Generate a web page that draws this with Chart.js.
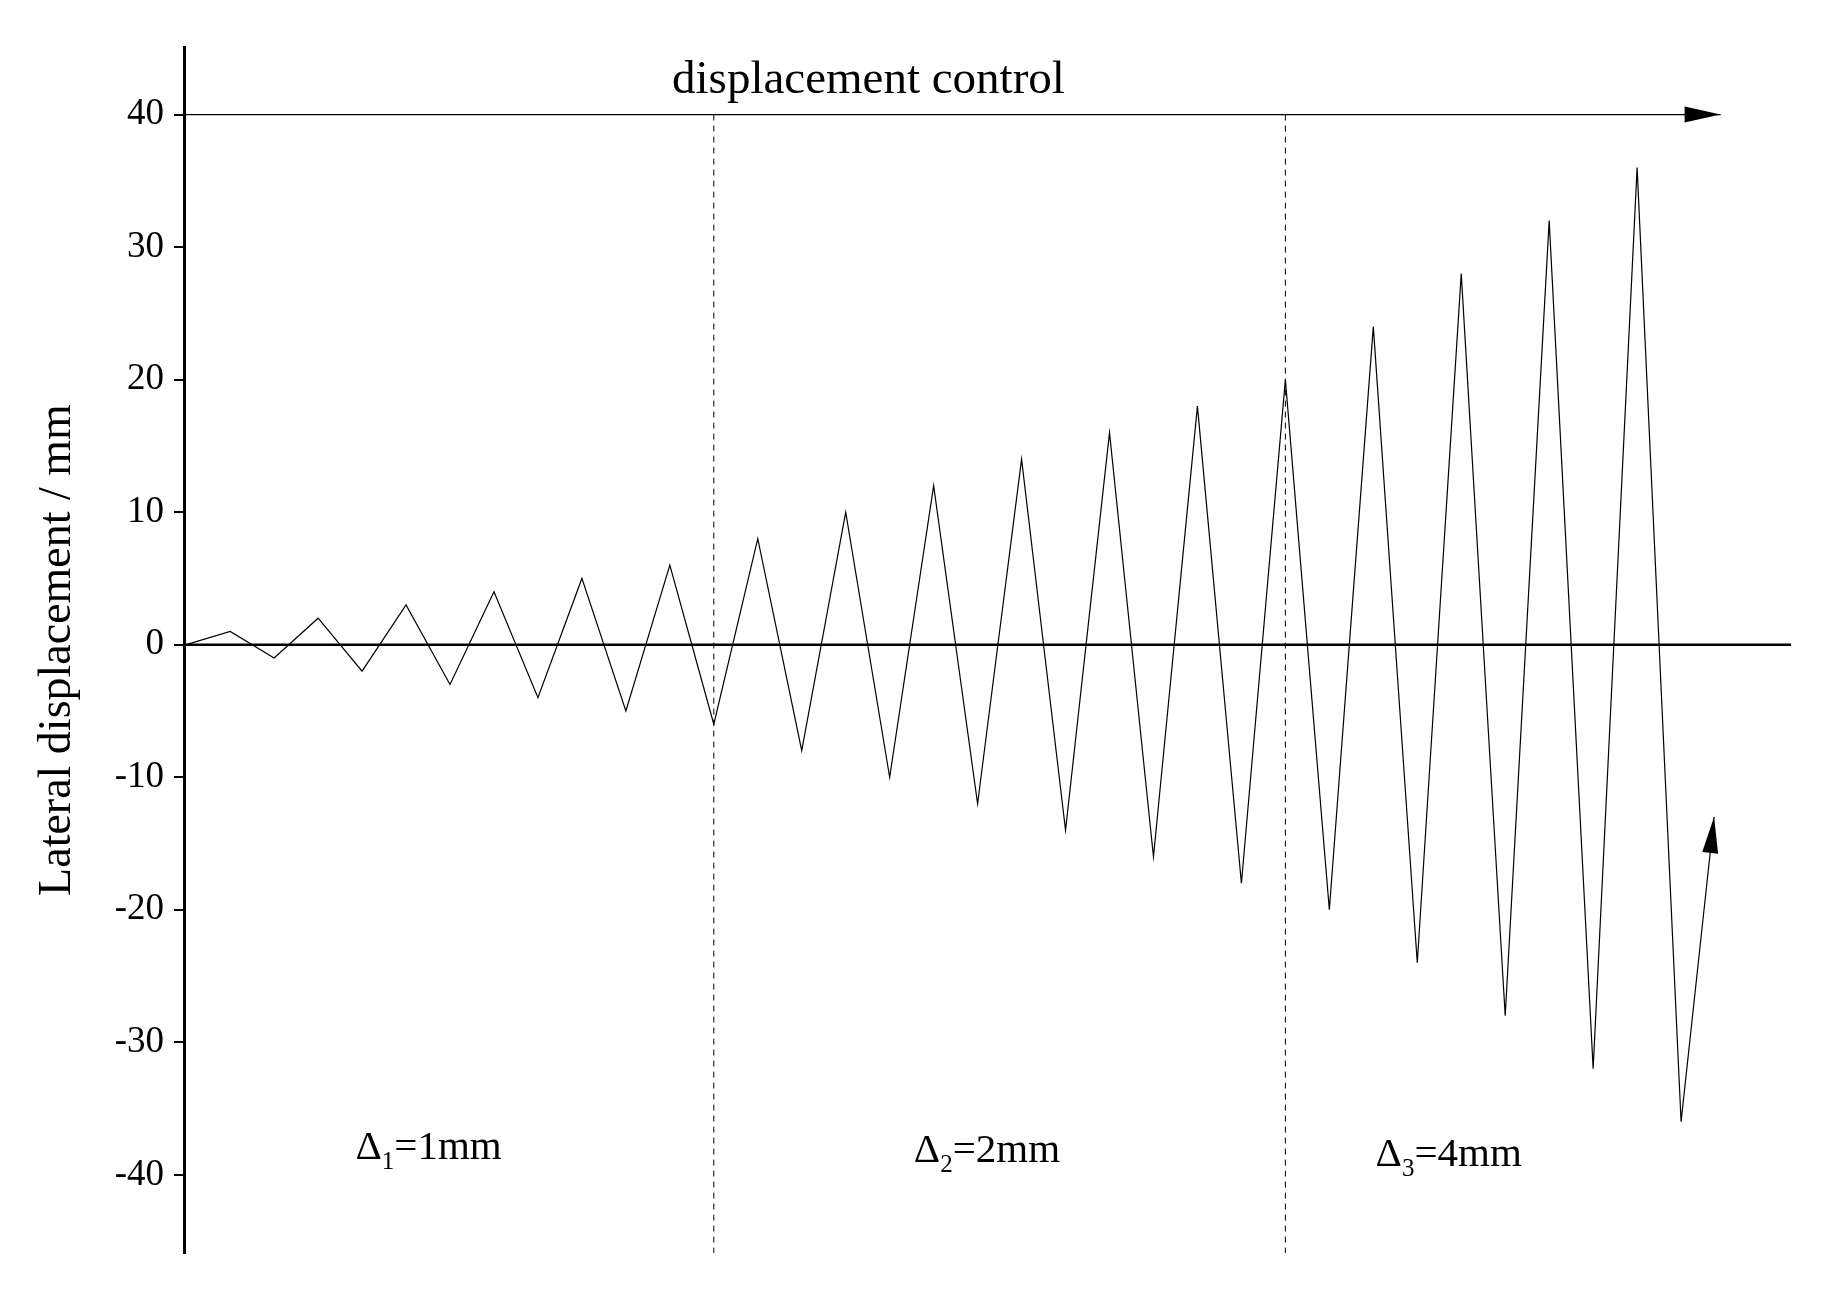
<!DOCTYPE html>
<html><head><meta charset="utf-8">
<script src="https://cdn.jsdelivr.net/npm/chart.js@4"></script>
<style>html,body{margin:0;background:#fff}</style></head>
<body><canvas id="c" width="1835" height="1300"></canvas>
<script>
const halfCycles = [0,1,2,3,4,5,6,7,8,9,10,11,12,13,14,15,16,17,18,19,20,21,22,23,24,25,26,27,28,29,30,31,32,33,34,34.75];
const displacement = [0,1,-1,2,-2,3,-3,4,-4,5,-5,6,-6,8,-8,10,-10,12,-12,14,-14,16,-16,18,-18,20,-20,24,-24,28,-28,32,-32,36,-36,-13];
const yTicks = [-40,-30,-20,-10,0,10,20,30,40];
const stageBounds = [12,25];
const stageLabels = [{x:3.85,n:'1',t:'=1mm'},{x:16.55,n:'2',t:'=2mm'},{x:27.05,n:'3',t:'=4mm'}];
const stageLabelY = [-38.8,-39.0,-39.3];
const FONT = '"Liberation Serif", "DejaVu Serif", serif';

const deco = {
  id:'deco',
  afterDatasetsDraw(ch){
    const c=ch.ctx, x=ch.scales.x, y=ch.scales.y, a=ch.chartArea;
    c.save(); c.strokeStyle='#000'; c.fillStyle='#000';
    c.lineWidth=2.5; c.beginPath(); c.moveTo(a.left,y.getPixelForValue(0)); c.lineTo(a.right,y.getPixelForValue(0)); c.stroke();
    c.lineWidth=1; c.setLineDash([6,5]);
    stageBounds.forEach(v=>{c.beginPath();c.moveTo(x.getPixelForValue(v),y.getPixelForValue(40));c.lineTo(x.getPixelForValue(v),a.bottom);c.stroke();});
    c.setLineDash([]);
    const yy=y.getPixelForValue(40), xe=x.getPixelForValue(34.9);
    c.lineWidth=1.3; c.beginPath(); c.moveTo(a.left,yy); c.lineTo(xe,yy); c.stroke();
    c.beginPath(); c.moveTo(xe,yy); c.lineTo(xe-36,yy-8); c.lineTo(xe-36,yy+8); c.closePath(); c.fill();
    const n=halfCycles.length;
    const x1=x.getPixelForValue(halfCycles[n-2]),y1=y.getPixelForValue(displacement[n-2]);
    const x2=x.getPixelForValue(halfCycles[n-1]),y2=y.getPixelForValue(displacement[n-1]);
    const ang=Math.atan2(y2-y1,x2-x1);
    c.save(); c.translate(x2,y2); c.rotate(ang);
    c.beginPath(); c.moveTo(0,0); c.lineTo(-36,-8); c.lineTo(-36,8); c.closePath(); c.fill(); c.restore();
    c.font='47px '+FONT; c.textAlign='left'; c.textBaseline='alphabetic';
    c.fillText('displacement control', x.getPixelForValue(11.05), y.getPixelForValue(41.6));
    stageLabels.forEach((s,i)=>{
      let px=x.getPixelForValue(s.x), py=y.getPixelForValue(stageLabelY[i]);
      c.textAlign='left'; c.font='41px '+FONT;
      c.fillText('\u0394',px,py); let w=c.measureText('\u0394').width;
      c.font='25px '+FONT; c.fillText(s.n,px+w,py+10); let w2=c.measureText(s.n).width;
      c.font='41px '+FONT; c.fillText(s.t,px+w+w2,py);
    });
    c.restore();
  }
};

new Chart(document.getElementById('c'),{
  type:'scatter',
  data:{datasets:[{data:halfCycles.map((v,i)=>({x:v,y:displacement[i]})),showLine:true,borderColor:'#000',borderWidth:1.2,pointRadius:0,tension:0}]},
  options:{
    responsive:false, animation:false,
    layout:{padding:{left:30,right:44,top:47,bottom:47}},
    plugins:{legend:{display:false},tooltip:{enabled:false}},
    scales:{
      x:{type:'linear',min:-0.05,max:36.5,display:false},
      y:{min:-45.9,max:45.1,
        afterBuildTicks(s){s.ticks=yTicks.map(v=>({value:v}));},
        afterFit(s){s.width=154;},
        border:{display:true,color:'#000',width:3},
        grid:{display:true,drawOnChartArea:false,drawTicks:true,tickLength:10,color:'#000',lineWidth:2},
        ticks:{color:'#000',font:{family:FONT,size:37},padding:10},
        title:{display:true,text:'Lateral displacement / mm',color:'#000',font:{family:FONT,size:46},padding:{top:0,bottom:6}}
      }
    }
  },
  plugins:[deco]
});
</script></body></html>
